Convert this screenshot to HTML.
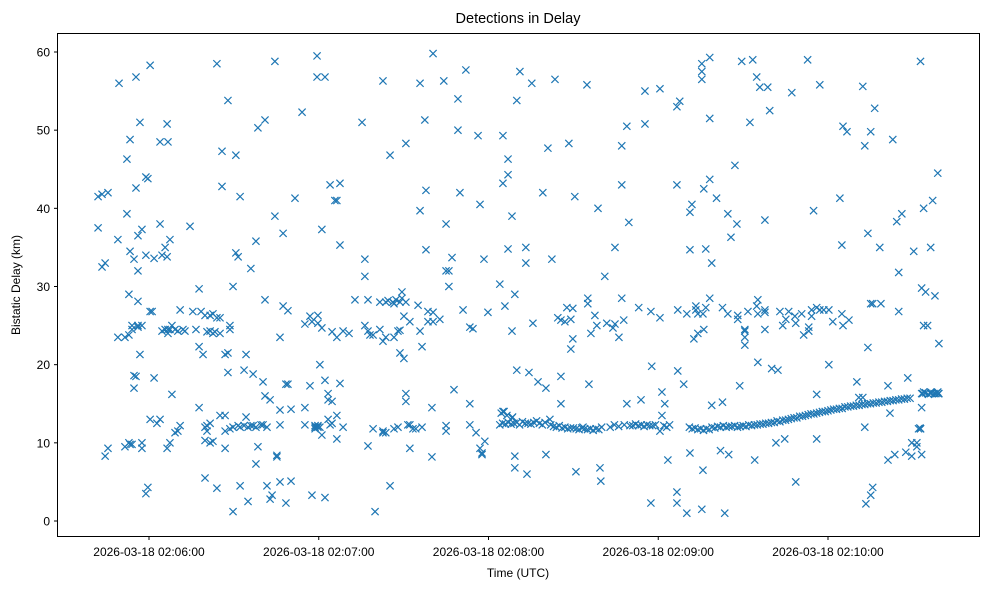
<!DOCTYPE html>
<html><head><meta charset="utf-8"><style>
body{margin:0;background:#fff;}
svg{display:block;font-family:"Liberation Sans","DejaVu Sans",sans-serif;}
</style></head><body>
<svg id="chart" width="989" height="590" viewBox="0 0 989 590" xmlns="http://www.w3.org/2000/svg">
<rect x="0" y="0" width="989" height="590" fill="#fff"/>
<text x="518" y="23" text-anchor="middle" font-size="14.5">Detections in Delay</text>
<g id="marks"></g>
<rect x="57.5" y="33.5" width="922" height="503" fill="none" stroke="#000" stroke-width="1"/>
<g id="xticks"></g>
<g id="yticks"></g>
<text x="518" y="577" text-anchor="middle" font-size="12">Time (UTC)</text>
<text x="20" y="285" text-anchor="middle" font-size="12" transform="rotate(-90 20 285)">Bistatic Delay (km)</text>
</svg>
<script>
// times in seconds relative to 02:06:00 UTC; delays in km
const scatterT = [-18,-16.6,-15.5,-14.5,-11,-10.6,-8.5,-7.8,-7.1,-6.7,-6,-5.3,-4.6,-3.9,-3.2,-2.5,-1.1,-0.4,0.4,1.1,1.8,2.8,3.9,4.6,5.7,6.4,6.7,7.4,8.1,9.2,10.2,11,12,12.7,14.5,15.5,16.6,17.7,18.4,19.1,19.8,20.5,21.6,22.6,23.3,24,25.1,25.8,26.9,27.9,28.6,29.7,30.7,31.5,32.2,33.6,34.3,35,36,36.8,37.8,38.5,39.6,40.3,41,41.7,42.8,43.5,44.5,45.2,46.3,47.4,48.4,49.1,50.2,51.6,54.1,55.1,56.9,57.6,58.7,59.4,59.7,60.4,61.1,62.2,63.3,64,64.7,65.7,66.4,67.5,68.6,70.7,72.8,75.3,76.3,77.4,78.1,79.2,79.9,81.6,82.7,83.7,84.5,85.2,86.2,86.6,87.3,88,88.7,89.4,90.1,90.8,91.5,92.2,93.3,94.3,95.1,95.8,96.5,97.5,97.9,98.6,100,100.4,102.8,104.2,105,106,107.1,107.8,109.2,109.9,111,112,113.4,114.5,115.6,116.3,117,117.7,118.4,118.7,119.8,124,125.1,125.8,126.9,128.3,129.3,130,131.1,133.2,133.6,134.3,135.3,135.7,137.5,139.2,140.3,141,141.7,142.4,143.5,144.5,145.6,147,147.7,148.4,149.1,149.8,150.5,150.9,153.4,154.8,155.1,155.5,156.2,157.6,158.3,158.7,159.4,159.7,161.1,161.8,164,164.7,166.1,167.1,167.8,168.9,169.6,173.1,173.9,175.3,177.4,177.7,180.6,181.3,182.3,183.4,186.6,186.9,187.6,189,190.1,191.2,191.9,192.6,193.3,194,195.4,195.8,196.1,196.8,198.2,198.9,200.6,202,202.7,203.5,204.6,204.9,205.7,207.1,207.8,208.1,208.8,209.5,210.6,211.7,212.4,213.4,214.1,214.8,215.2,215.9,217.7,218.7,219.4,220.1,221.6,222.3,223,224,224.7,225.1,226.1,227.2,228.3,228.6,230.7,231.4,232.8,233.2,234.2,234.9,236,237.1,238.5,240.3,241.7,244.2,244.9,245.3,246.7,247.4,250.2,250.9,252.3,253,253.4,254.1,255.1,255.8,256.5,258.3,258.7,261.2,261.9,262.9,263.6,264.3,265,266.1,267.5,268.2,269.6,270.3,271.4,272.7,273.1,273.8,274.5,275.2,276.3,277,277.8,278.1,278.8,279.2];
const scatterKm = [[41.5,37.5],[32.5,41.8],[8.3,33],[9.3,42],[23.5,36],[56],[9.5,23.5],[39.3,46.3],[29,23.8,10],[48.8,34.5,9.8],[24.5,25,9.8],[18.6,17,33.5],[56.8,42.6,18.5],[36.5,32,25,28.1,24.8],[51,21.3],[37.3,25,10,9.3],[44,34,3.5],[43.8,4.3],[58.3,26.8,13],[26.8],[33.6,18.3],[12.5],[48.5,38,13],[34,24.3],[35,24.5],[50.8,33.8,9.3],[48.5,24.5,24],[36,24.5,10],[25,16.2],[24.5,11.3],[24.3,11.5],[27,12.2],[24.5],[24.3],[37.7],[26.8],[24.5],[29.7,22.3,14.5],[26.8],[21.3],[26.3,12,10.3,5.5],[24.2,12.2,11.5],[26.3,24.3,12.5,10],[26.5,24,10.2],[24.2],[58.5,26,4.2],[26,24,13.5],[47.3,42.8],[21.3,13.5,9.3,11.5],[53.8,21.5,19],[25,24.5,11.8],[30,12,1.2],[46.8,34.3],[33.8,12.2],[41.5,12,4.5],[19.3,12.2],[21.3,13.3],[12,2.5],[32.3,12.2],[18.8,12.2],[35.8,12,7.3],[50.3,9.5],[12.3],[17.8,12.3],[51.3,28.3,16],[12,4.5],[15.5,2.8],[3.3],[58.8,39],[8.2,8.4],[23.5,14.2,12.3,5],[36.8,27.5],[17.5,2.3],[26.9,17.5],[14.3,5.1],[41.3],[52.3],[25.2,14.5,12.3],[26.2,17.3],[25.5,3.3],[12,12.2,11.8],[59.5,56.8],[26.3,25.3,12.2,12],[20,12],[37.3,24.7,11],[56.8,18,3],[16.3,15.5,13],[43,12.3],[24.2,15.3,12.5],[41],[41,23.5,13.5,10.5],[43.2,35.3,17.6],[24.3,12],[24],[28.3],[51],[33.5,31.3,25],[28.3,24.3,9.6],[23.8],[23.8,11.8],[1.2],[28,24.5],[56.3,23,11.3,11.5],[28,23.5,11.3],[28.2],[46.8,4.5],[28],[23.5,27.8,11.8],[28.3],[24.3,12],[28,24.4,21.5],[29.3,28.5],[26.2,20.8],[48.3,28,15.3,16.3],[12.3],[25.5,12.3,9.3],[11.8],[11.8],[27.6],[56,39.7,24.3],[22.3,12],[51.3],[42.3,34.7],[26.8,25.5],[14.5,8.2],[59.8,26.7,25.5],[25.8],[56.3],[38,32,12.2,11.5],[30,32],[33.7],[16.8],[54,50],[42],[27],[57.7],[24.8,12.3,15],[24.6],[11.3],[49.3],[40.5,9.3],[8.5,8.7],[33.5],[10.2],[26.7],[30.3],[49.3,43.2,14],[27.5],[46.3,44.3,34.8],[39,24.3,13.2],[29,6.8,8.3],[53.8,19.3],[57.5],[35,33],[6],[19],[56],[25.3],[17.8],[42],[17,8.5],[47.7],[13],[33.5],[56.5],[26],[25.7,18.5,15],[25.5],[27.3],[48.3],[22,25.8],[27.2,23.3],[41.5],[6.3],[12],[55.8],[28.5,27.8],[17.5],[24],[26.3],[25],[40],[6.8],[5.1],[31.3],[25.3],[24.7],[35,25.2],[23.5],[48,43,28.5],[25.7],[50.5,15],[38.2],[27.3],[15.5],[55,50.8],[26.8,2.3],[19.8],[55.3,26,11.5],[16.5,13.5],[15],[7.8],[43,53,2.3,3.7],[27,19.2],[53.7],[17.5],[26.5,1],[8.7,39.5,34.7],[40.5],[23.3],[27,27.5],[26.5,24],[58.5,57.5,56.5,1.5],[6.5,26.5],[42.5,24.5],[27.3,34.8],[28.5,43.7,51.5,59.3],[33,14.8],[41.3],[9],[27.3,15.2],[1],[26.5,39.3],[8.5],[36.3],[45.5],[38],[26.3,25.8],[17.3],[58.8],[23.5,24.3,24.5,22.5],[26.8],[51],[59],[7.8],[27.5,56.8],[28.3,20.3,26.5],[55.5],[26.7,27,24.5,38.5],[55.5],[52.5],[19.5],[10],[19.3],[26.8],[25],[10.5],[25.8],[26.8],[54.8],[26.2],[5,25.3],[26.5],[23.8],[59],[24.8,24.3],[27,26.2],[39.7],[10.5,27.3,16.2],[55.8,27],[27],[20,27],[25.5],[41.3],[35.3,26.5],[50.5,25],[49.8],[25.7],[17.8],[15.8],[55.6,15.8],[48,12],[2.2],[36.8,22.2],[49.8,27.8,3.3],[27.8,4.3],[52.8],[35],[27.8],[7.8,17.3],[13.8],[48.8],[8.5],[38.3],[31.8,26.8],[39.3],[8.8],[18.3],[8.3,10],[34.5],[9.5,10],[58.8,11.8,11.8],[29.8,8.5,14.5,16.3],[40,25,16.5],[29.3],[25],[35,16.5,16.3],[41],[28.8],[16.3],[44.5,16.5],[22.7,16.3]];
const trackT = [124,124.5,125,125.5,126,126.5,127,128,128.5,129,130,131,132,133,134,135,136,137,138,139,140,142,143,144,145,146,147,148,149,150,151,152,153,154,155,156,157,158,159,160,163,164.5,166,168,170,171,172,173,174,175,176,177,178,179,182,183,184,191,192,193,194,195,196,197,198,199,200,201,202,203,204,205,206,207,208,209,210,211,212,213,214,215,216,217,218,219,220,221,222,223,224,225,226,227,228,229,230,231,232,233,234,235,236,237,238,239,240,241,242,243,244,245,246,247,248,249,250,251,252,253,254,255,256,257,258,259,260,261,262,263,264,265,266,267,268,269,272,272.5,273.5,274.5,275.5,276.5,277.5,278.5,279];
const trackKm = [12.3,13.8,12.5,14,12.4,13.5,12.6,12.4,13.3,12.5,12.6,12.3,12.7,12.5,12.5,12.4,12.6,12.8,12.5,12.3,12.6,12.3,12.1,12,12.2,11.9,12,11.8,11.9,11.9,11.8,11.7,11.9,11.8,11.7,11.8,11.6,11.8,11.7,12,12,12.3,12.1,12.3,12.2,12.2,12.4,12.2,12.3,12.1,12.3,12.2,12.2,12.3,12.2,12,12.3,12,11.8,11.9,11.7,11.8,11.6,11.8,11.7,12,11.9,12.1,12,12.2,12,12.1,12.1,12.2,12,12.1,12.2,12.1,12.3,12.2,12.3,12.3,12.4,12.4,12.5,12.5,12.6,12.6,12.8,12.7,12.9,12.9,13,13.1,13.2,13.2,13.4,13.4,13.5,13.6,13.7,13.7,13.8,13.9,14,14,14.1,14.2,14.3,14.3,14.4,14.4,14.6,14.6,14.7,14.7,14.8,14.8,14.9,14.9,15,15,15.1,15.1,15.2,15.2,15.3,15.3,15.4,15.4,15.5,15.5,15.6,15.6,15.7,15.7,11.8,11.9,16.3,16.4,16.2,16.4,16.3,16.4,16.3];
const xTickSecs = [0,60,120,180,240];
const xTickLabels = ["2026-03-18 02:06:00","2026-03-18 02:07:00","2026-03-18 02:08:00","2026-03-18 02:09:00","2026-03-18 02:10:00"];
const yTicks = [0,10,20,30,40,50,60];

const NS = "http://www.w3.org/2000/svg";
function xScale(t){ return 149 + t * 169.75 / 60; }
function yScale(v){ return 521 - v * 469 / 60; }
const marks = document.getElementById("marks");
function drawX(t, v){
  const cx = xScale(t), cy = yScale(v), r = 3.6;
  const p = document.createElementNS(NS, "path");
  p.setAttribute("d", `M${cx-r},${cy-r}L${cx+r},${cy+r}M${cx-r},${cy+r}L${cx+r},${cy-r}`);
  p.setAttribute("stroke", "#1f77b4");
  p.setAttribute("stroke-width", "1.2");
  p.setAttribute("fill", "none");
  
  
  marks.appendChild(p);
}
scatterT.forEach((t, i) => { scatterKm[i].forEach(v => drawX(t, v)); });
trackT.forEach((t, i) => drawX(t, trackKm[i]));

const xg = document.getElementById("xticks");
xTickSecs.forEach((s, i) => {
  const x = xScale(s);
  const l = document.createElementNS(NS, "line");
  l.setAttribute("x1", x); l.setAttribute("x2", x); l.setAttribute("y1", 536.5); l.setAttribute("y2", 540); l.setAttribute("stroke", "#000");
  
  
  xg.appendChild(l);
  const tx = document.createElementNS(NS, "text");
  tx.setAttribute("x", x); tx.setAttribute("y", 556); tx.setAttribute("text-anchor", "middle"); tx.setAttribute("font-size", "12");
  tx.textContent = xTickLabels[i];
  
  
  xg.appendChild(tx);
});
const yg = document.getElementById("yticks");
yTicks.forEach(v => {
  const y = yScale(v);
  const l = document.createElementNS(NS, "line");
  l.setAttribute("x1", 54); l.setAttribute("x2", 57.5); l.setAttribute("y1", y); l.setAttribute("y2", y); l.setAttribute("stroke", "#000");
  
  
  yg.appendChild(l);
  const tx = document.createElementNS(NS, "text");
  tx.setAttribute("x", 50); tx.setAttribute("y", y + 4.5); tx.setAttribute("text-anchor", "end"); tx.setAttribute("font-size", "12");
  tx.textContent = v;
  
  
  yg.appendChild(tx);
});
</script>
</body></html>
